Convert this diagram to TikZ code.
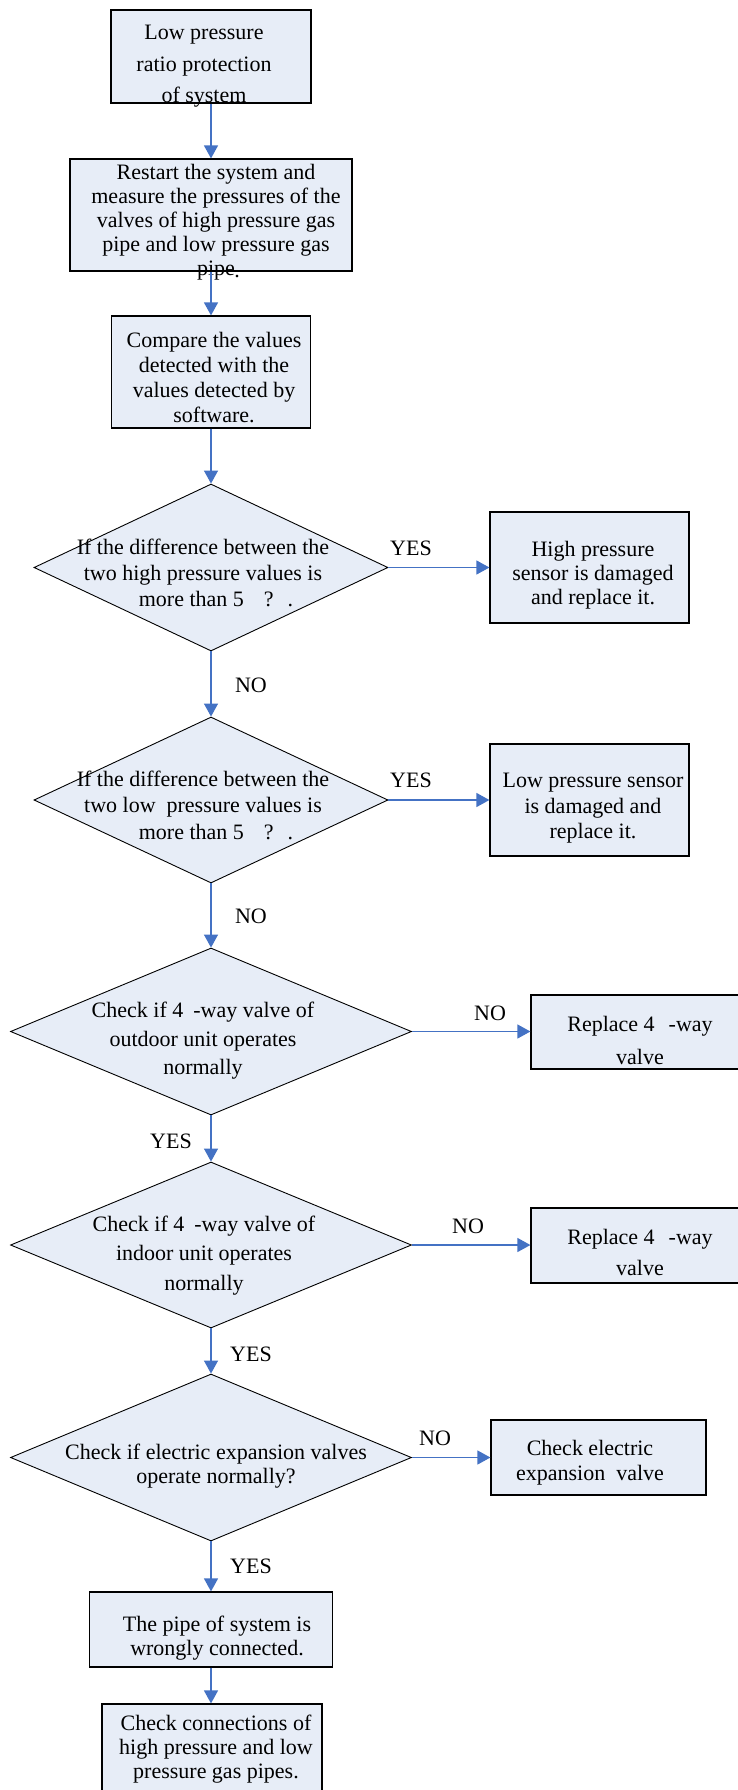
\documentclass[tikz,border=0pt]{standalone}
\usepackage{fontspec}
\setmainfont{Liberation Serif}
\usetikzlibrary{arrows.meta,shapes.geometric}
\definecolor{boxfill}{HTML}{E7EDF7}
\definecolor{flowblue}{HTML}{4472C4}

\begin{document}
\begin{tikzpicture}[x=1pt,y=-1pt,
    every node/.style={font=\fontsize{22}{25}\selectfont,inner sep=0pt},
    box/.style={rectangle,draw=black,line width=1.2pt,fill=boxfill},
    dia/.style={diamond,draw=black,line width=0.9pt,fill=boxfill},
    txt/.style={align=center},
    lsp/.style={font=\fontsize{22}{#1}\selectfont},
    flow/.style={draw=flowblue,line width=1.3pt,-{Triangle[length=13pt,width=14pt]}}]
  \useasboundingbox (0,0) rectangle (737,1790);
  \fill[white] (0,0) rectangle (737,1790);

  % main column
  \node[box,minimum width=200pt,minimum height=93pt] (lowp) at (211,56.5) {};
  \node[box,minimum width=282pt,minimum height=112pt] (restart) at (211,215) {};
  \node[box,minimum width=199pt,minimum height=112pt] (compare) at (211,372) {};
  \node[dia,minimum width=354pt,minimum height=167pt] (d1) at (211,567.5) {};
  \node[dia,minimum width=354pt,minimum height=166pt] (d2) at (211,800) {};
  \node[dia,minimum width=401pt,minimum height=167pt] (d3) at (211,1031.5) {};
  \node[dia,minimum width=401pt,minimum height=166pt] (d4) at (211,1245) {};
  \node[dia,minimum width=401pt,minimum height=167pt] (d5) at (211,1457.5) {};
  \node[box,minimum width=243pt,minimum height=75pt] (pipe) at (211,1629.5) {};
  \node[box,minimum width=220pt,minimum height=100pt] (conn) at (212,1754) {};

  % side boxes
  \node[box,minimum width=199pt,minimum height=111pt] (hps) at (589.5,567.5) {};
  \node[box,minimum width=199pt,minimum height=112pt] (lps) at (589.5,800) {};
  \node[box,minimum width=215pt,minimum height=74pt] (rep1) at (638.5,1032) {};
  \node[box,minimum width=215pt,minimum height=75pt] (rep2) at (638.5,1245.5) {};
  \node[box,minimum width=215pt,minimum height=75pt] (eev) at (598.5,1457.5) {};

  % texts
  \node[txt,lsp=31.5] (lowp-t) at (204,66.5) {Low pressure\\ratio protection\\of system};
  \node[txt,lsp=24] (restart-t) at (216,222) {Restart the system and\\measure the pressures of the\\valves of high pressure gas\\pipe and low pressure gas\\pipe};
  \node (restart-d) at (237,277) {.};
  \node[txt,lsp=25] (compare-t) at (214,378) {Compare the values\\detected with the\\values detected by\\software.};
  \node[txt,lsp=26] (d1-t) at (203,573) {If the difference between the\\two high pressure values is\\\hspace*{26pt}more than 5\hspace{20pt}?\hspace{14pt}.};
  \node[txt,lsp=24] (hps-t) at (593,575) {High pressure\\sensor is damaged\\and replace it.};
  \node[txt,lsp=26.5] (d2-t) at (203,805) {If the difference between the\\two low\ \ pressure values is\\\hspace*{26pt}more than 5\hspace{20pt}?\hspace{14pt}.};
  \node[txt,lsp=25.5] (lps-t) at (593,808.5) {Low pressure sensor\\is damaged and\\replace it.};
  \node[txt,lsp=28.5] (d3-t) at (203,1041) {Check if 4\hspace{10pt}-way valve of\\outdoor unit operates\\normally};
  \node[txt,lsp=33] (rep1-t) at (640,1040) {Replace 4\hspace{14pt}-way\\valve};
  \node[txt,lsp=29.5] (d4-t) at (204,1255.5) {Check if 4\hspace{10pt}-way valve of\\indoor unit operates\\normally};
  \node[txt,lsp=31] (rep2-t) at (640,1252.5) {Replace 4\hspace{14pt}-way\\valve};
  \node[txt,lsp=24] (d5-t) at (216,1466) {Check if electric expansion valves\\operate normally?};
  \node[txt,lsp=25] (eev-t) at (590,1463) {Check electric\\expansion\ \ valve};
  \node[txt,lsp=24] (pipe-t) at (217,1638) {The pipe of system is\\wrongly connected.};
  \node[txt,lsp=24] (conn-t) at (216,1749) {Check connections of\\high pressure and low\\pressure gas pipes.};

  % branch labels
  \node (yes1) at (411,548) {YES};
  \node (no1) at (251,685) {NO};
  \node (yes2) at (411,780) {YES};
  \node (no2) at (251,916) {NO};
  \node (no3) at (490,1013) {NO};
  \node (yes3) at (171,1141) {YES};
  \node (no4) at (468,1226) {NO};
  \node (yes4) at (251,1354) {YES};
  \node (no5) at (435,1438) {NO};
  \node (yes5) at (251,1566) {YES};

  % connectors
  \foreach \a/\b in {lowp/restart,restart/compare,compare/d1,d1/d2,d2/d3,d3/d4,d4/d5,d5/pipe,pipe/conn}
    \draw[flow] (\a.south) -- (\a.south |- \b.north);
  \foreach \a/\b in {d1/hps,d2/lps,d3/rep1,d4/rep2,d5/eev}
    \draw[flow] (\a.east) -- (\b.west |- \a.east);
\end{tikzpicture}
\end{document}
